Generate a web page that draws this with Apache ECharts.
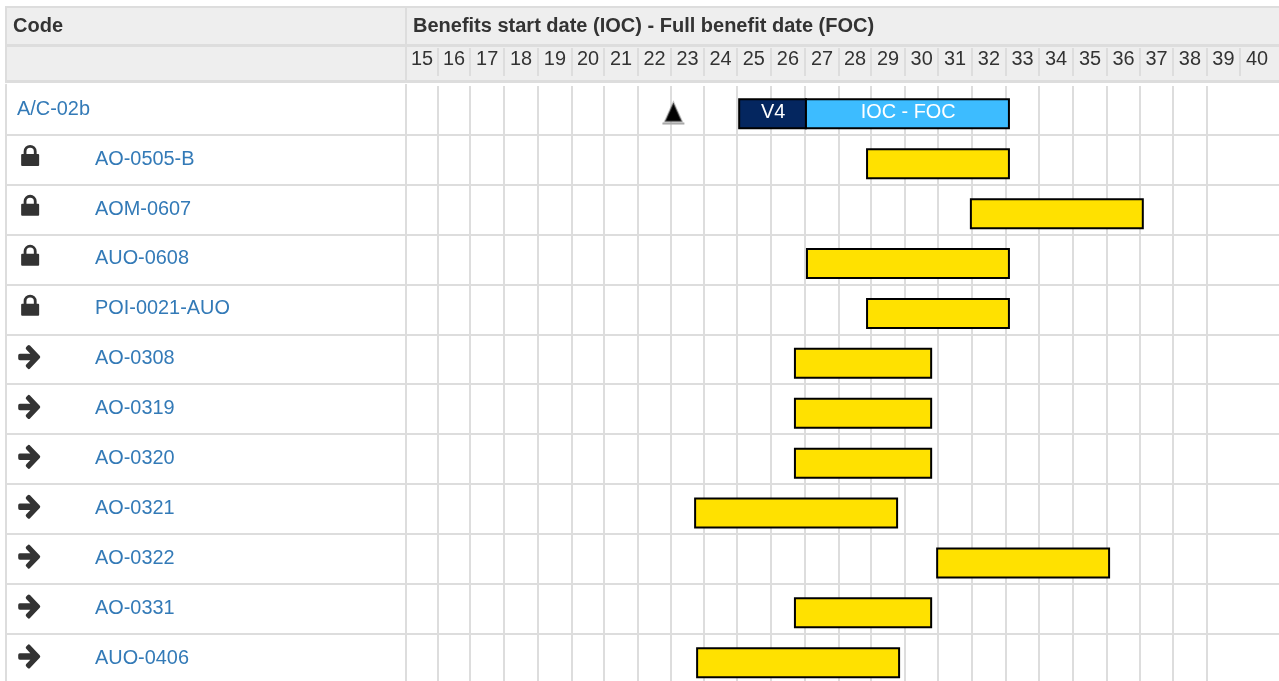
<!DOCTYPE html>
<html><head><meta charset="utf-8">
<style>html,body{margin:0;padding:0;background:#fff;overflow:hidden}#c{width:1279px;height:681px}</style>
<script src="https://cdn.jsdelivr.net/npm/echarts@6/dist/echarts.min.js"></script>
</head><body><div id="c"></div>
<script>
const weeks = ['15','16','17','18','19','20','21','22','23','24','25','26','27','28','29','30','31','32','33','34','35','36','37','38','39','40'];
const columnEdges = [15,15.96,16.92,17.94,18.95,19.97,20.93,21.95,22.94,23.93,24.91,25.93,26.95,27.97,28.93,29.95,30.94,31.95,32.97,33.96,34.98,36,36.99,37.97,38.99,39.98];
const lastEdge = 41;
const codes = ['A/C-02b','AO-0505-B','AOM-0607','AUO-0608','POI-0021-AUO','AO-0308','AO-0319','AO-0320','AO-0321','AO-0322','AO-0331','AUO-0406'];
const lockRows = ['AO-0505-B','AOM-0607','AUO-0608','POI-0021-AUO'];
const arrowRows = ['AO-0308','AO-0319','AO-0320','AO-0321','AO-0322','AO-0331','AUO-0406'];
const yellowRows = codes.slice(1);
const yellowStart = [28.81,31.92,27.01,28.81,26.65,26.65,26.65,23.66,30.91,26.65,23.72];
const yellowEnd = [33.06,37.07,33.06,33.06,30.73,30.73,30.73,29.71,36.06,30.73,29.77];
const phases = [['A/C-02b',24.98,26.98,'V4','#04265f'],['A/C-02b',26.98,33.06,'IOC - FOC','#3dbcff']];
const milestone = [[23.01,'A/C-02b']];

const labelCenters = columnEdges.map((e,i)=>(e+(i+1<columnEdges.length?columnEdges[i+1]:lastEdge))/2);
const FONT='"Liberation Sans",Arial,sans-serif', FS=19.9;
const LOCK='path://M2.5 9V6.5a6.5 6.5 0 0 1 13 0V9H17a1 1 0 0 1 1 1v10a1 1 0 0 1-1 1H1a1 1 0 0 1-1-1V10a1 1 0 0 1 1-1zM5.3 9h7.4V6.5a3.7 3.7 0 0 0-7.400 0z';
const ARROW='path://M12 1l9.5 9.5a1.6 1.6 0 0 1 0 2.3L12 22.3a1.6 1.6 0 0 1-2.3 0l-1.4-1.4a1.6 1.6 0 0 1 0-2.3l4-4H2a1.6 1.6 0 0 1-1.6-1.6V10.2a1.6 1.6 0 0 1 1.6-1.6h10.3l-4-4a1.6 1.6 0 0 1 0-2.3L9.7 1a1.6 1.6 0 0 1 2.3 0z';

const line={color:'#ddd',width:2};
function bar(params,api){
  const s=api.coord([api.value(0),api.value(2)]), e=api.coord([api.value(1),api.value(2)]);
  const top=s[1]-10.4, h=29;
  const txt=api.value(3);
  return {type:'rect',shape:{x:s[0],y:top,width:e[0]-s[0],height:h},
    style:{fill:api.value(4),stroke:'#000',lineWidth:2},
    textContent:txt?{style:{text:txt,fill:'#fff',font:FS+'px '+FONT},z2:5}:undefined,
    textConfig:txt?{position:'inside',offset:[0.7,-1]}:undefined};
}
const chart=echarts.init(document.getElementById('c'),null,{renderer:'canvas'});
chart.setOption({
  animation:false,
  backgroundColor:'#fff',
  title:[
    {text:'Code',left:13,top:16,padding:0,textStyle:{fontFamily:FONT,fontSize:20,fontWeight:'bold',color:'#333'}},
    {text:'Benefits start date (IOC) - Full benefit date (FOC)',left:413,top:16,padding:0,textStyle:{fontFamily:FONT,fontSize:20,fontWeight:'bold',color:'#333'}}
  ],
  graphic:[
    {type:'rect',z:-10,shape:{x:5,y:6,width:1274,height:77},style:{fill:'#ddd'},silent:true},
    {type:'rect',z:-9,shape:{x:7,y:8,width:1272,height:36},style:{fill:'#eee'},silent:true},
    {type:'rect',z:-9,shape:{x:7,y:47,width:1272,height:33},style:{fill:'#eee'},silent:true},
    {type:'rect',z:-8,shape:{x:405,y:8,width:2,height:72},style:{fill:'#ddd'},silent:true},
    {type:'rect',z:1,shape:{x:407,y:83,width:872,height:3},style:{fill:'#fff'},silent:true},
    {type:'rect',z:1,shape:{x:7,y:83,width:398,height:3},style:{fill:'#fff'},silent:true}
  ],
  grid:[
    {left:6,width:400,top:84.8,height:598.8,outerBoundsMode:'none'},
    {left:406,width:901.4,top:84.8,height:598.8,outerBoundsMode:'none'}
  ],
  xAxis:[
    {gridIndex:0,type:'value',min:0,max:400,show:false},
    {gridIndex:1,type:'value',min:15,max:42,position:'top',offset:8.8,
      axisLine:{show:false},
      axisLabel:{show:true,margin:6.5,customValues:labelCenters,hideOverlap:false,
        fontFamily:FONT,fontSize:FS,color:'#333',
        formatter:v=>weeks[labelCenters.indexOf(v)]},
      axisTick:{show:true,length:28,lineStyle:line,customValues:columnEdges},
      splitLine:{show:true,lineStyle:line,showMaxLine:false}}
  ],
  yAxis:[
    {gridIndex:0,type:'category',data:codes,inverse:true,
      axisLine:{show:true,lineStyle:line},axisTick:{show:false},
      splitLine:{show:true,interval:0,lineStyle:line},
      axisLabel:{inside:true,interval:0,margin:11,align:'left',
        formatter:v=>v===codes[0]?'{t|'+v+'}':'{i|}{t|'+v+'}',
        rich:{i:{width:78},t:{fontFamily:FONT,fontSize:FS,color:'#337ab7',padding:[0,0,1,0]}}}},
    {gridIndex:1,type:'category',data:codes,inverse:true,
      axisLine:{show:false},axisTick:{show:false},axisLabel:{show:false},
      splitLine:{show:true,interval:0,lineStyle:line}}
  ],
  series:[
    {type:'scatter',name:'lock',xAxisIndex:0,yAxisIndex:0,symbol:LOCK,symbolSize:[18,21],symbolOffset:[0,-4.2],
      itemStyle:{color:'#333',opacity:1},data:lockRows.map(r=>[24.15,r])},
    {type:'scatter',name:'arrow',xAxisIndex:0,yAxisIndex:0,symbol:ARROW,symbolSize:[22,24],symbolOffset:[0,-2.2],
      itemStyle:{color:'#333',opacity:1},data:arrowRows.map(r=>[23.2,r])},
    {type:'custom',name:'yellow',xAxisIndex:1,yAxisIndex:1,renderItem:bar,z:3,clip:false,
      encode:{x:[0,1],y:2},
      data:yellowRows.map((r,i)=>[yellowStart[i],yellowEnd[i],r,'','#ffe100'])},
    {type:'custom',name:'phases',xAxisIndex:1,yAxisIndex:1,renderItem:bar,z:3,
      encode:{x:[0,1],y:2},
      data:phases.map(p=>[p[1],p[2],p[0],p[3],p[4]])},
    {type:'scatter',name:'milestone base',xAxisIndex:1,yAxisIndex:1,symbol:'rect',symbolSize:[22,2],symbolOffset:[0,13.8],z:4,
      itemStyle:{color:'#aaa',opacity:1},data:milestone},
    {type:'scatter',name:'milestone',xAxisIndex:1,yAxisIndex:1,symbol:'triangle',symbolSize:[17,19],symbolOffset:[0,2.3],z:5,
      itemStyle:{color:'#000',opacity:1,borderColor:'rgba(120,120,120,0.45)',borderWidth:2},data:milestone}
  ]
});
</script></body></html>
